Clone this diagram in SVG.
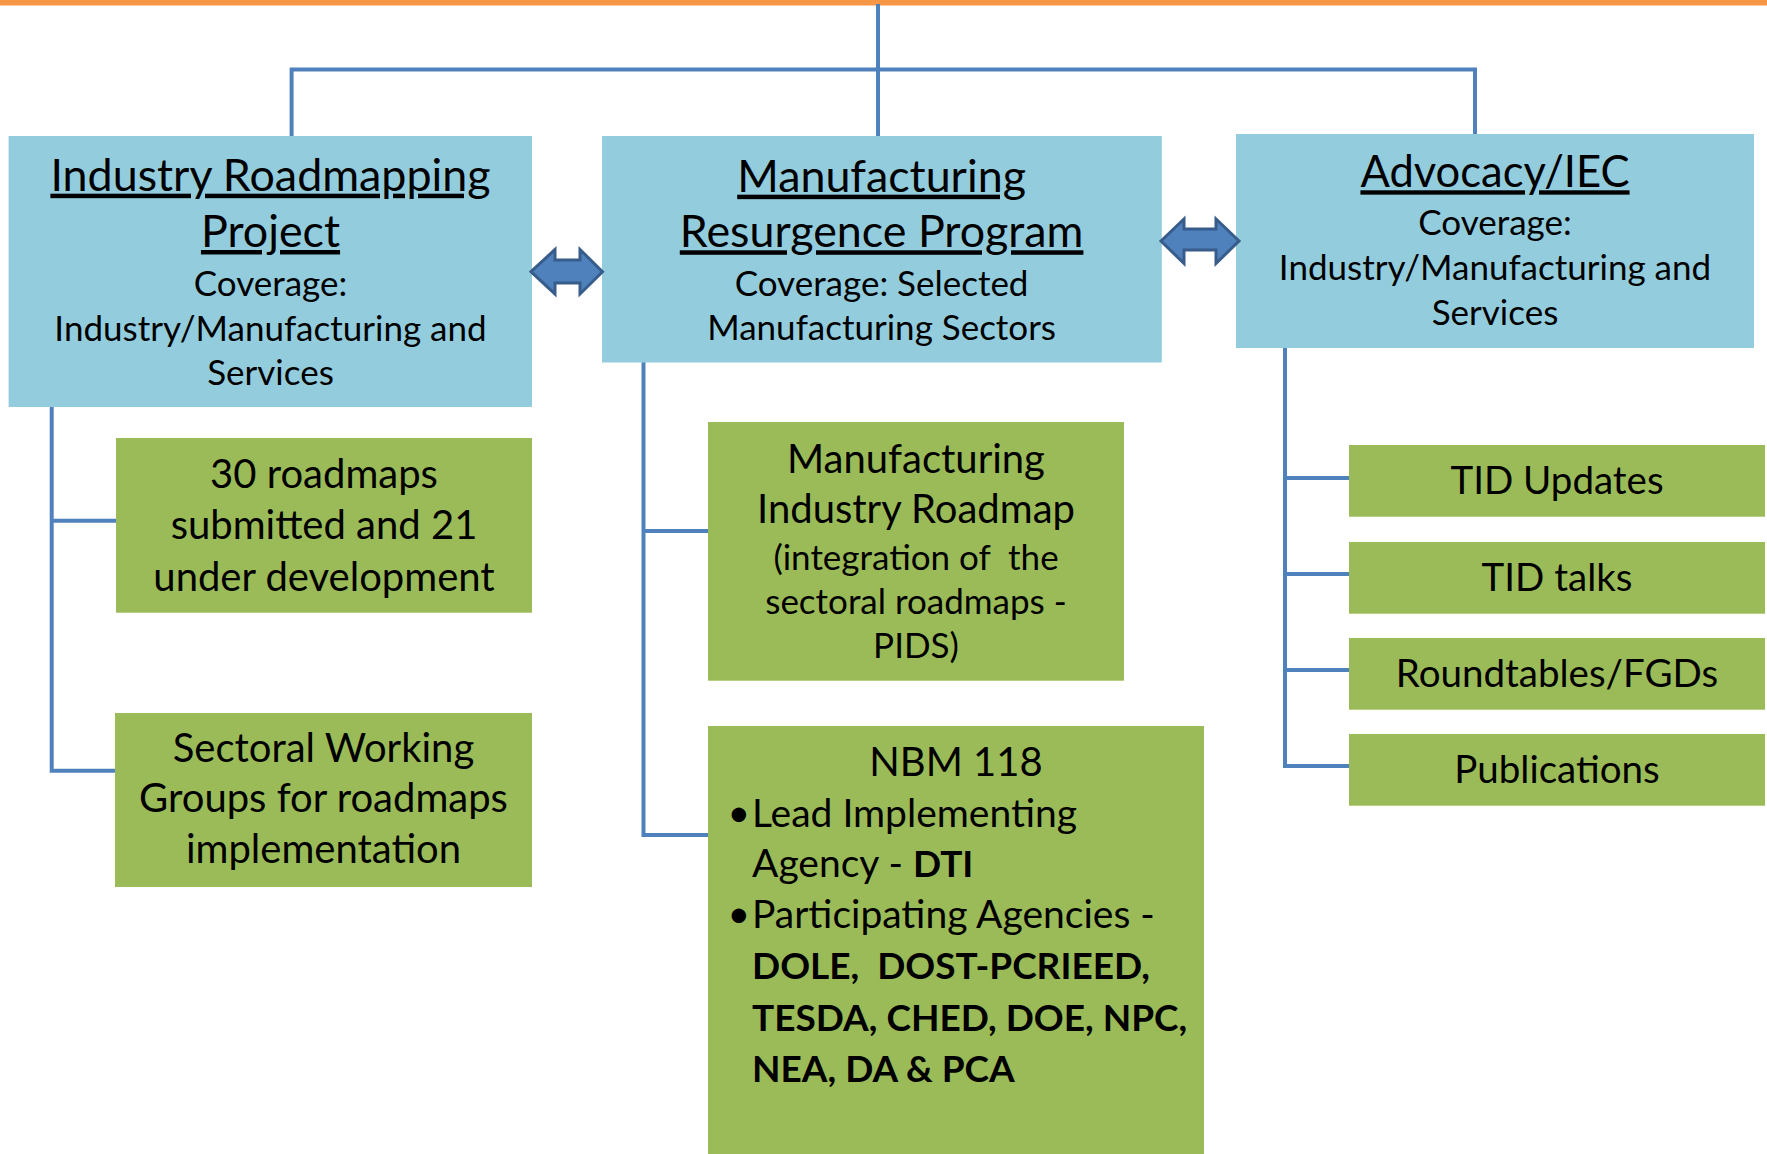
<svg xmlns="http://www.w3.org/2000/svg" width="1767" height="1154" viewBox="0 0 1767 1154">
<style>
.blue{fill:#93CDDD}
.green{fill:#9BBB59}
.conn{stroke:#4F81BD;stroke-width:4;fill:none;stroke-linecap:square}
.arrow{fill:#4F81BD;stroke:#385D8A;stroke-width:3;stroke-linejoin:miter}
text{font-family:Lato,"Liberation Sans",sans-serif;fill:#000;text-anchor:middle;white-space:pre}
.t{font-size:44.8px;text-decoration:underline}
.ta{font-size:43.5px;text-decoration:underline}
.b{font-size:35px}
.g{font-size:40px}
.p{font-size:39px}
.r{font-size:38.5px}
.s{font-size:35px}
.l{text-anchor:start}
.bold{font-weight:bold;font-size:37px}
</style>
<rect x="0" y="0" width="1767" height="5.5" fill="#F79646"/>
<g id="connectors">
<path class="conn" d="M878,6 V134 M291.6,69.5 H1475 M291.6,69.5 V134 M1475,69.5 V134"/>
<path class="conn" d="M51.7,407 V770.7 H116 M51.7,520.7 H116"/>
<path class="conn" d="M643.5,362.7 V835 H708 M643.5,531 H708"/>
<path class="conn" d="M1285,348 V766 H1349 M1285,478 H1349 M1285,574 H1349 M1285,670 H1349"/>
</g>
<g id="irp">
<rect class="blue" x="8.6" y="136" width="523.4" height="271"/>
<text class="t" x="270.5" y="190.7">Industry Roadmapping</text>
<text class="t" x="270.5" y="247">Project</text>
<text class="b" x="270.5" y="296">Coverage:</text>
<text class="b" x="270.5" y="340.7">Industry/Manufacturing and</text>
<text class="b" x="270.5" y="385">Services</text>
</g>
<g id="mrp">
<rect class="blue" x="602" y="136" width="559.8" height="226.5"/>
<text class="t" x="881.6" y="191.7">Manufacturing</text>
<text class="t" x="881.6" y="247.3">Resurgence Program</text>
<text class="b" x="881.6" y="296">Coverage: Selected</text>
<text class="b" x="881.6" y="340">Manufacturing Sectors</text>
</g>
<g id="adv">
<rect class="blue" x="1236" y="134" width="518" height="214"/>
<text class="ta" x="1495" y="187.3">Advocacy/IEC</text>
<text class="b" x="1495" y="235">Coverage:</text>
<text class="b" x="1495" y="280">Industry/Manufacturing and</text>
<text class="b" x="1495" y="325">Services</text>
</g>
<g id="arrow-left">
<polygon class="arrow" points="531,271.7 555,249.5 555,260 580,260 580,249.5 602.5,271.7 580,294 580,283 555,283 555,294"/>
</g>
<g id="arrow-right">
<polygon class="arrow" points="1161,241 1184,219 1184,229 1216,229 1216,219 1239,241 1216,263.5 1216,250 1184,250 1184,263.5"/>
</g>
<g id="roadmaps30">
<rect class="green" x="116" y="438" width="416" height="174.7"/>
<text class="g" x="324" y="488">30 roadmaps</text>
<text class="g" x="324" y="539">submitted and 21</text>
<text class="g" x="324" y="590.7">under development</text>
</g>
<g id="swg">
<rect class="green" x="115" y="713" width="417" height="174"/>
<text class="g" x="323.5" y="761.7">Sectoral Working</text>
<text class="g" x="323.5" y="812.3">Groups for roadmaps</text>
<text class="g" x="323.5" y="863.3">implementation</text>
</g>
<g id="mir">
<rect class="green" x="708" y="422" width="416" height="258.7"/>
<text class="g" x="916" y="472.7">Manufacturing</text>
<text class="g" x="916" y="523.3">Industry Roadmap</text>
<text class="s" x="916" y="570">(integration of  the</text>
<text class="s" x="916" y="614">sectoral roadmaps -</text>
<text class="s" x="916" y="658.3">PIDS)</text>
</g>
<g id="nbm">
<rect class="green" x="708" y="726" width="496" height="428"/>
<text class="g" x="956" y="776">NBM 118</text>
<text class="p l" x="727.5" y="825.5" font-size="34">•</text>
<text class="p l" x="752" y="826.7">Lead Implementing</text>
<text class="p l" x="752" y="876.7">Agency - <tspan class="bold">DTI</tspan></text>
<text class="p l" x="727.5" y="927" font-size="34">•</text>
<text class="p l" x="752" y="928.3">Participating Agencies -</text>
<text class="l bold" x="752" y="979.3">DOLE,  DOST-PCRIEED,</text>
<text class="l bold" x="752" y="1031">TESDA, CHED, DOE, NPC,</text>
<text class="l bold" x="752" y="1081.7">NEA, DA &amp; PCA</text>
</g>
<g id="tid-updates">
<rect class="green" x="1349" y="445" width="416" height="71.7"/>
<text class="r" x="1557" y="494">TID Updates</text>
</g>
<g id="tid-talks">
<rect class="green" x="1349" y="542" width="416" height="71.7"/>
<text class="r" x="1557" y="590.7">TID talks</text>
</g>
<g id="roundtables">
<rect class="green" x="1349" y="638" width="416" height="71.7"/>
<text class="r" x="1557" y="686.7">Roundtables/FGDs</text>
</g>
<g id="publications">
<rect class="green" x="1349" y="734" width="416" height="71.7"/>
<text class="r" x="1557" y="782.7">Publications</text>
</g>
</svg>
